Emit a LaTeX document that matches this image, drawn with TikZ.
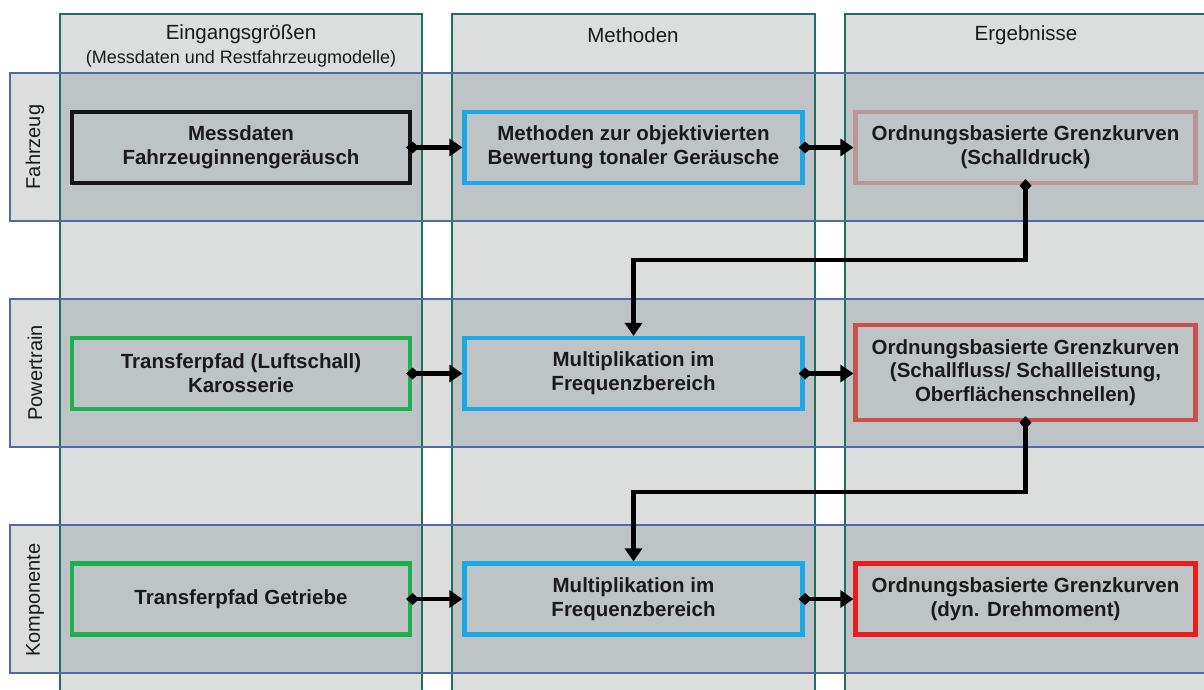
\documentclass[tikz,border=0pt]{standalone}
\usepackage{fontspec}
\setmainfont{Liberation Sans}
\usetikzlibrary{arrows.meta}
\definecolor{lanefill}{HTML}{DCDDDD}
\definecolor{cellfill}{HTML}{BEC3C5}
\definecolor{colline}{HTML}{1F6E60}
\definecolor{rowline}{HTML}{5169A6}
\definecolor{boxblack}{HTML}{141414}
\definecolor{boxcyan}{HTML}{1AA8E8}
\definecolor{boxgreen}{HTML}{1DB050}
\definecolor{boxrose}{HTML}{B99797}
\definecolor{boxbrick}{HTML}{C8504F}
\definecolor{boxred}{HTML}{EC1C1C}
\definecolor{txt}{HTML}{1A1A1A}
\tikzset{
  lanecol/.style={fill=lanefill},
  laneline/.style={draw=colline, line width=2.4pt},
  rowline/.style={draw=rowline, line width=2.8pt},
  head/.style={font=\fontsize{20.5}{23}\selectfont, text=txt, align=center},
  subhead/.style={font=\fontsize{18}{21}\selectfont, text=txt, align=center},
  rowlabel/.style={font=\fontsize{20}{23}\selectfont, text=txt, rotate=90},
  flowbox/.style={draw, line width=4.2pt, minimum width=338pt, minimum height=71pt,
    inner sep=0pt, align=center, text=txt, font=\bfseries\fontsize{20.5}{23.8}\selectfont},
  conn/.style={line width=4.4pt, draw=black, line join=miter, shorten <=-6pt,
    {Diamond[length=13pt,width=12pt]}-{Triangle[length=13pt,width=17pt]}},
}
\begin{document}
\begin{tikzpicture}[x=1pt,y=-1pt]
\useasboundingbox (0,0) rectangle (1204,689);
\clip (0,0) rectangle (1204,689);
\fill[white] (0,0) rectangle (1204,689);

% column lanes
\foreach \xa/\xb in {60/422, 452/815, 845/1207} {
  \fill[lanecol] (\xa,14) rectangle (\xb,700);
}
% row bands with darker cells where they cross the lanes
\foreach \ya/\yb in {73/221, 299/447, 525/673} {
  \fill[lanecol] (10,\ya) rectangle (1215,\yb);
  \foreach \xa/\xb in {60/422, 452/815, 845/1207} {
    \fill[cellfill] (\xa,\ya) rectangle (\xb,\yb);
  }
}
% lane borders
\foreach \xa/\xb in {60/422, 452/815, 845/1207} {
  \draw[laneline] (\xa,700) -- (\xa,14) -- (\xb,14) -- (\xb,700);
}
\foreach \ya/\yb in {73/221, 299/447, 525/673} {
  \draw[rowline] (1215,\ya) -- (10,\ya) -- (10,\yb) -- (1215,\yb);
}

% headers
\node[head] (h1) at (241,34) {Eingangsgrößen};
\node[subhead] (h1s) at (241,59) {(Messdaten und Restfahrzeugmodelle)};
\node[head] (h2) at (633,35) {Methoden};
\node[head] (h3) at (1026,35) {Ergebnisse};

% row labels
\node[rowlabel] (l1) at (35,147) {Fahrzeug};
\node[rowlabel] (l2) at (35,373) {Powertrain};
\node[rowlabel] (l3) at (35,600) {Komponente};

% boxes
\node[flowbox, draw=boxblack] (a1) at (241,147.5) {Messdaten\\Fahrzeuginnengeräusch};
\node[flowbox, draw=boxcyan] (b1) at (633.5,147.5) {Methoden zur objektivierten\\Bewertung tonaler Geräusche};
\node[flowbox, draw=boxrose, minimum width=340pt] (c1) at (1025.5,147.5) {Ordnungsbasierte Grenzkurven\\(Schalldruck)};

\node[flowbox, draw=boxgreen] (a2) at (241,373.5) {Transferpfad (Luftschall)\\Karosserie};
\node[flowbox, draw=boxcyan] (b2) at (633.5,373.5) {Multiplikation im\\Frequenzbereich};
\node[flowbox, draw=boxbrick, minimum width=340pt, minimum height=95pt] (c2) at (1025.5,372.5) {Ordnungsbasierte Grenzkurven\\(Schallfluss/ Schallleistung,\\Oberflächenschnellen)};

\node[flowbox, draw=boxgreen] (a3) at (241,599) {Transferpfad Getriebe};
\node[flowbox, draw=boxcyan] (b3) at (633.5,599) {Multiplikation im\\Frequenzbereich};
\node[flowbox, draw=boxred, minimum width=340pt] (c3) at (1025.5,599) {Ordnungsbasierte Grenzkurven\\(dyn. Drehmoment)};

% connectors
\draw[conn] (a1.east) -- (b1.west);
\draw[conn] (b1.east) -- (c1.west);
\draw[conn] (a2.east) -- (b2.west);
\draw[conn] (b2.east) -- (b2.east -| c2.west);
\draw[conn] (a3.east) -- (b3.west);
\draw[conn] (b3.east) -- (c3.west);
\draw[conn] (c1.south) -- ++(0,75) -| (b2.north);
\draw[conn] (c2.south) -- ++(0,70) -| (b3.north);
\end{tikzpicture}
\end{document}
